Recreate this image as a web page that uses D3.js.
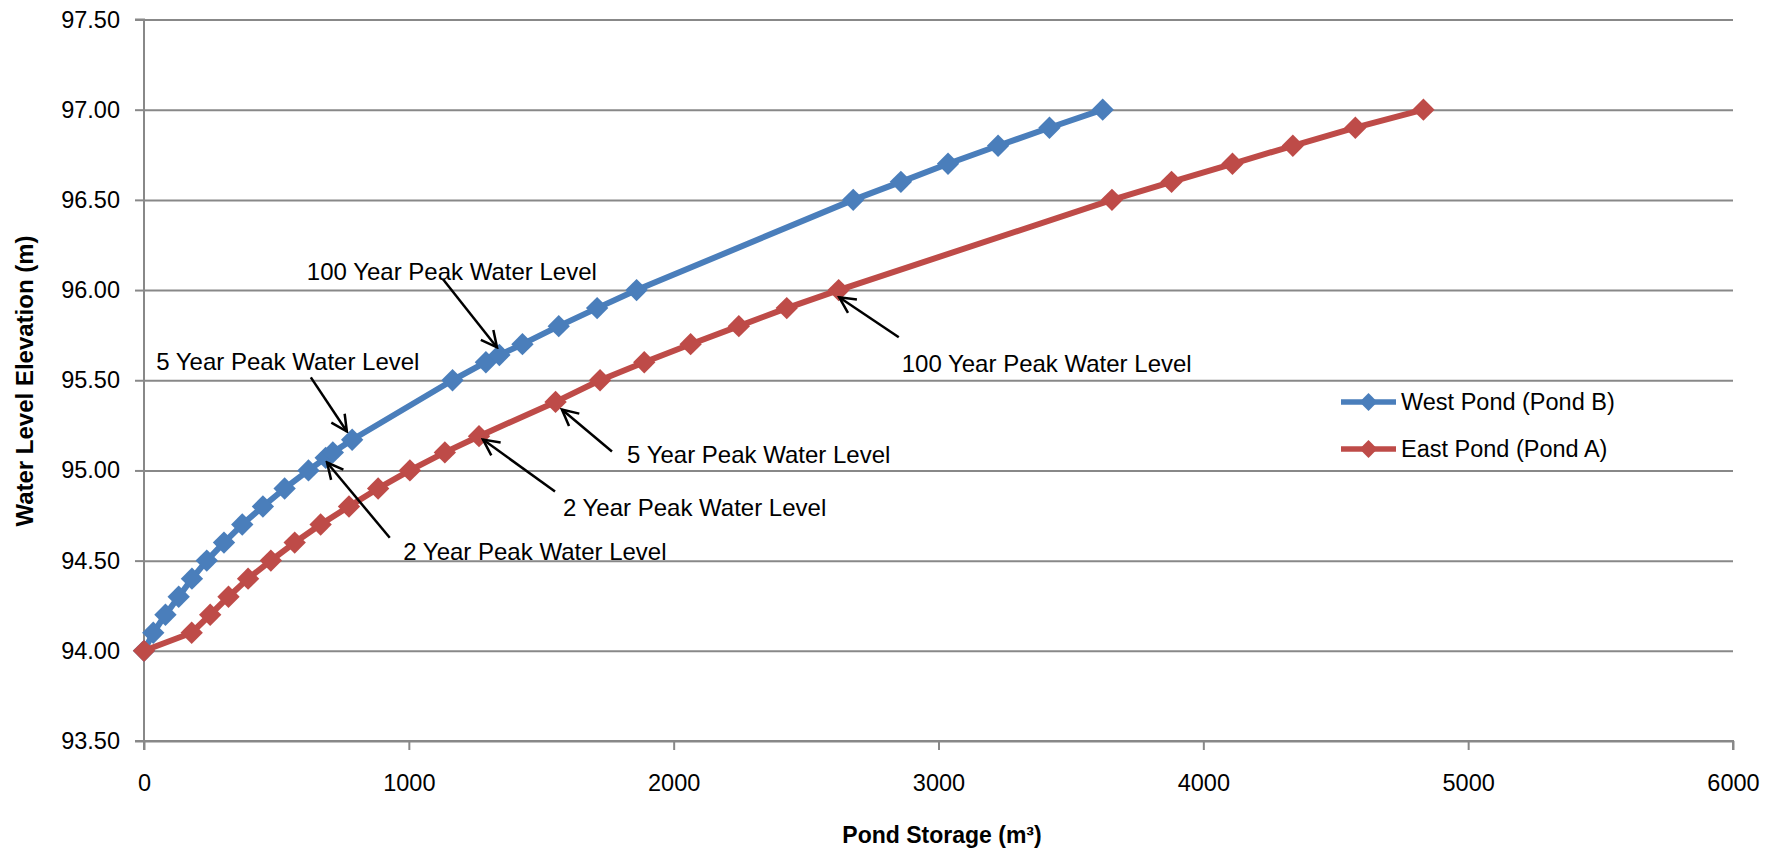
<!DOCTYPE html>
<html>
<head>
<meta charset="utf-8">
<script src="https://cdn.jsdelivr.net/npm/d3@7"></script>
<style>
  html, body { margin: 0; padding: 0; background: #fff; }
  svg { display: block; }
  text { font-family: "Liberation Sans", Arial, sans-serif; fill: #000; }
</style>
</head>
<body>
<svg id="chart" width="1780" height="851"></svg>
<script>
// ---- Data ----
const westStorage = [0, 35, 81, 131, 181, 237, 302, 371, 449, 531, 621, 686, 713, 786, 1165, 1291, 1342, 1429, 1566, 1711, 1860, 2678, 2858, 3036, 3225, 3419, 3620];
const westElev    = [94.0, 94.1, 94.2, 94.3, 94.4, 94.5, 94.6, 94.7, 94.8, 94.9, 95.0, 95.07, 95.1, 95.17, 95.5, 95.6, 95.64, 95.7, 95.8, 95.9, 96.0, 96.5, 96.6, 96.7, 96.8, 96.9, 97.0];
const eastStorage = [0, 180, 250, 319, 393, 479, 569, 667, 774, 884, 1004, 1136, 1265, 1554, 1722, 1889, 2064, 2246, 2427, 2623, 3655, 3880, 4110, 4338, 4574, 4831];
const eastElev    = [94.0, 94.1, 94.2, 94.3, 94.4, 94.5, 94.6, 94.7, 94.8, 94.9, 95.0, 95.1, 95.19, 95.38, 95.5, 95.6, 95.7, 95.8, 95.9, 96.0, 96.5, 96.6, 96.7, 96.8, 96.9, 97.0];
const seriesNames = ["West Pond (Pond B)", "East Pond (Pond A)"];
const xTicks = [0, 1000, 2000, 3000, 4000, 5000, 6000];
const yTicks = [93.5, 94.0, 94.5, 95.0, 95.5, 96.0, 96.5, 97.0, 97.5];
// annotations: label, label anchor (storage, elev), arrow tail (storage, elev), arrow tip (storage, elev)
const annoLabels = ["100 Year Peak Water Level", "5 Year Peak Water Level", "2 Year Peak Water Level",
                    "2 Year Peak Water Level", "5 Year Peak Water Level", "100 Year Peak Water Level"];
const annoText = [[615, 96.055], [46, 95.555], [979, 94.505], [1582, 94.75], [1824, 95.044], [2861, 95.544]];
const annoTail = [[1129, 96.06], [630, 95.516], [928, 94.627], [1552, 94.883], [1767, 95.105], [2850, 95.738]];
const annoTip  = [[1333, 95.682], [766, 95.216], [691, 95.044], [1280, 95.171], [1578, 95.338], [2625, 95.96]];

// ---- Layout ----
const plot = { left: 144, right: 1733, top: 19.5, bottom: 741 };
const colors = ["#4A7EBB", "#BE4B48"];
const gridColor = "#888888";
const tickFont = "23.5px";

const svg = d3.select("#chart");
const x = d3.scaleLinear().domain([0, 6000]).range([plot.left, plot.right]);
const y = d3.scaleLinear().domain([93.5, 97.5]).range([plot.bottom, plot.top]);

// gridlines
const grid = svg.append("g").attr("transform", `translate(${plot.left},0)`)
  .call(d3.axisLeft(y).tickValues(yTicks).tickSize(-(plot.right - plot.left)).tickFormat(""));
grid.select(".domain").remove();
grid.selectAll("line").attr("stroke", gridColor).attr("stroke-width", 2);

// y axis
const yAxis = svg.append("g").attr("transform", `translate(${plot.left},0)`)
  .call(d3.axisLeft(y).tickValues(yTicks).tickSize(9).tickPadding(15).tickFormat(d3.format(".2f")));
yAxis.select(".domain").attr("stroke", gridColor).attr("stroke-width", 2).attr("d", `M-9,${plot.top}H0V${plot.bottom}H-9`);
yAxis.selectAll("line").attr("stroke", gridColor).attr("stroke-width", 2);
yAxis.selectAll("text").style("font-size", tickFont).style("font-family", "Liberation Sans, Arial, sans-serif").attr("fill", "#000");

// x axis
const xAxis = svg.append("g").attr("transform", `translate(0,${plot.bottom})`)
  .call(d3.axisBottom(x).tickValues(xTicks).tickSize(9).tickPadding(24).tickFormat(d3.format("d")));
xAxis.select(".domain").attr("stroke", gridColor).attr("stroke-width", 2).attr("d", `M${plot.left},9V0H${plot.right}V9`);
xAxis.selectAll("line").attr("stroke", gridColor).attr("stroke-width", 2);
xAxis.selectAll("text").style("font-size", tickFont).style("font-family", "Liberation Sans, Arial, sans-serif").attr("fill", "#000");

// axis titles
svg.append("text").attr("x", 942).attr("y", 843)
  .attr("text-anchor", "middle").style("font-size", "23px").style("font-weight", "bold")
  .text("Pond Storage (m³)");
svg.append("text").attr("transform", `translate(33,381) rotate(-90)`)
  .attr("text-anchor", "middle").style("font-size", "24px").style("font-weight", "bold")
  .text("Water Level Elevation (m)");

// series
const series = [
  westStorage.map((s, i) => ({ s, e: westElev[i] })),
  eastStorage.map((s, i) => ({ s, e: eastElev[i] }))
];
const line = d3.line().x(d => x(d.s)).y(d => y(d.e));
const diamond = d3.symbol().type(d3.symbolSquare).size(250);
series.forEach((data, k) => {
  const g = svg.append("g");
  g.append("path").datum(data).attr("d", line).attr("fill", "none")
    .attr("stroke", colors[k]).attr("stroke-width", 6).attr("stroke-linejoin", "round");
  g.selectAll("path.m").data(data).enter().append("path").attr("class", "m")
    .attr("d", diamond)
    .attr("transform", d => `translate(${x(d.s)},${y(d.e)}) rotate(45)`)
    .attr("fill", colors[k]);
});

// annotations
const defs = svg.append("defs");
defs.append("marker").attr("id", "arrow").attr("viewBox", "0 0 20 20")
  .attr("refX", 18).attr("refY", 10).attr("markerWidth", 20).attr("markerHeight", 20)
  .attr("markerUnits", "userSpaceOnUse").attr("orient", "auto")
  .append("path").attr("d", "M2,2 L18,10 L2,18").attr("fill", "none")
  .attr("stroke", "#000").attr("stroke-width", 2.5);
const ag = svg.append("g");
annoLabels.forEach((lab, i) => {
  ag.append("line")
    .attr("x1", x(annoTail[i][0])).attr("y1", y(annoTail[i][1]))
    .attr("x2", x(annoTip[i][0])).attr("y2", y(annoTip[i][1]))
    .attr("stroke", "#000").attr("stroke-width", 2.5).attr("marker-end", "url(#arrow)");
  ag.append("text").attr("x", x(annoText[i][0])).attr("y", y(annoText[i][1]))
    .style("font-size", "24px").text(lab);
});

// legend
const legendX = 1341, legendY = [402, 449];
seriesNames.forEach((name, k) => {
  const g = svg.append("g").attr("transform", `translate(${legendX},${legendY[k]})`);
  g.append("line").attr("x1", 0).attr("x2", 55).attr("y1", 0).attr("y2", 0)
    .attr("stroke", colors[k]).attr("stroke-width", 5.5);
  g.append("path").attr("d", d3.symbol().type(d3.symbolSquare).size(160))
    .attr("transform", "translate(27.5,0) rotate(45)").attr("fill", colors[k]);
  g.append("text").attr("x", 60).attr("y", 0).attr("dy", "0.35em")
    .style("font-size", "23.5px").text(name);
});
</script>
</body>
</html>
